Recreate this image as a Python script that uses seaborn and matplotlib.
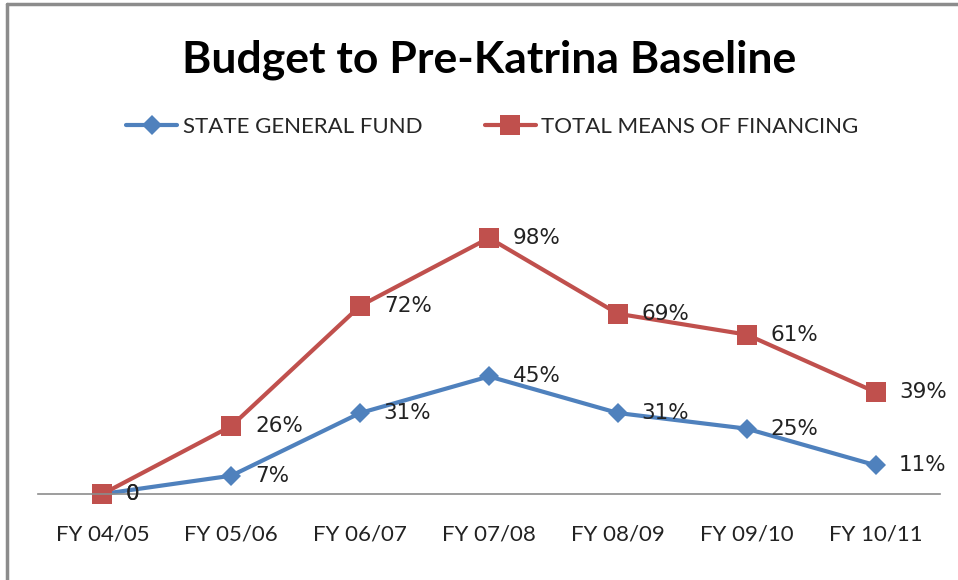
import matplotlib
matplotlib.use("Agg")
import matplotlib.pyplot as plt
from matplotlib.lines import Line2D
import seaborn as sns
import pandas as pd

# data
years = ["FY 04/05", "FY 05/06", "FY 06/07", "FY 07/08", "FY 08/09", "FY 09/10", "FY 10/11"]
state_general_fund = [0, 7, 31, 45, 31, 25, 11]
total_means_of_financing = [0, 26, 72, 98, 69, 61, 39]
series_names = ["STATE GENERAL FUND", "TOTAL MEANS OF FINANCING"]
series_colors = ["#4F81BD", "#C0504D"]
series_markers = ["D", "s"]
series_msize = [10, 14]

sns.set_theme(style="white")
plt.rcParams["font.family"] = ["Lato", "DejaVu Sans"]

fig = plt.figure(figsize=(9.58, 5.8), dpi=100)
ax = fig.add_axes([0.0397, 0.1483, 0.9415, 0.5405])

values = [state_general_fund, total_means_of_financing]
for name, vals, col, mk, ms in zip(series_names, values, series_colors, series_markers, series_msize):
    df = pd.DataFrame({"Year": years, "Value": vals})
    sns.lineplot(data=df, x="Year", y="Value", ax=ax, color=col, marker=mk,
                 markersize=ms, markeredgewidth=0, linewidth=3, label=name, clip_on=False)
    for i, v in enumerate(vals):
        txt = "0" if v == 0 else f"{v}%"
        ax.annotate(txt, (i, v), xytext=(17, 0), textcoords="offset points",
                    ha="left", va="center", fontsize=15.5, color="#222222",
                    family="DejaVu Sans")

ax.set_xlim(-0.5, 6.5)
ax.set_ylim(0, 120)
ax.set_xlabel("")
ax.set_ylabel("")
ax.set_yticks([])
for s in ["top", "right", "left"]:
    ax.spines[s].set_visible(False)
ax.spines["bottom"].set_color("#8C8C8C")
ax.spines["bottom"].set_linewidth(1.2)
ax.tick_params(axis="x", length=0, pad=22, labelsize=16, labelcolor="#222222")
ax.get_legend().remove()

handles = [Line2D([], [], color=c, marker=m, markersize=ms, markeredgewidth=0, linewidth=3)
           for c, m, ms in zip(series_colors, series_markers, series_msize)]
fig.legend(handles, series_names, loc="center", bbox_to_anchor=(0.514, 0.781), ncol=2,
           frameon=False, fontsize=16, handlelength=2.3, handletextpad=0.25,
           columnspacing=2.8)

fig.text(0.511, 0.897, "Budget to Pre-Katrina Baseline", ha="center", va="center",
         fontsize=32, fontweight="bold", color="black")

# chart border (top and left edges visible in the reference)
fig.add_artist(Line2D([0.007, 1.0], [0.993, 0.993], color="#8C8C8C", linewidth=2.5,
                      transform=fig.transFigure))
fig.add_artist(Line2D([0.007, 0.007], [0.0, 0.993], color="#8C8C8C", linewidth=2.5,
                      transform=fig.transFigure))

fig.savefig("out.png", dpi=100)
